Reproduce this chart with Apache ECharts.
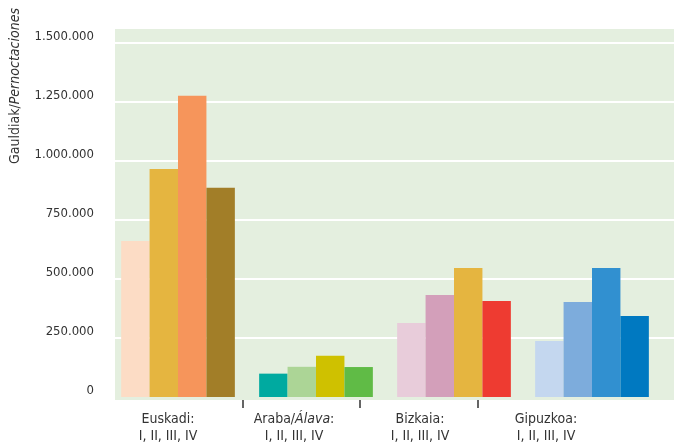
<!DOCTYPE html>
<html>
<head>
<meta charset="utf-8">
<script src="https://cdn.jsdelivr.net/npm/echarts@6/dist/echarts.min.js"></script>
<style>
  html, body { margin: 0; padding: 0; background: #fff; }
  #chart { width: 674px; height: 443px; }
</style>
</head>
<body>
<div id="chart"></div>
<script>
// data
const categories = ['Euskadi', 'Araba/Álava', 'Bizkaia', 'Gipuzkoa']
const quarters = ['I', 'II', 'III', 'IV']
const q1 = [661000, 99000, 314000, 237000]
const q2 = [966000, 128000, 432000, 403000]
const q3 = [1277000, 175000, 547000, 547000]
const q4 = [887000, 127000, 407000, 343000]
const yMax = 1560000
const yStep = 250000

// one colour per region and quarter
const palette = [
  ['#fcdcc5', '#e5b540', '#f6955b', '#a27e28'],
  ['#00aaa0', '#acd596', '#cfc100', '#60bb46'],
  ['#e8ccda', '#d39fba', '#e5b540', '#ee3b31'],
  ['#c4d7ef', '#7dacdc', '#3190d0', '#0079c1']
]

const values = [q1, q2, q3, q4]
const font = "'Liberation Sans Narrow', 'DejaVu Sans Condensed', sans-serif"
const textColor = '#333'

const fmt = (v) => String(v).replace(/\B(?=(\d{3})+(?!\d))/g, '.')

const hiddenX = (gridIndex, data) => ({
  type: 'category', gridIndex, data, show: false
})
const hiddenY = (gridIndex) => ({
  type: 'value', gridIndex, min: 0, max: yMax, show: false, splitLine: { show: false }
})
const box = (left, right, bottom, extra) => ({
  left, right, top: 29, bottom, outerBoundsMode: 'none', containLabel: false, ...extra
})

const labelRich = {
  a: { fontSize: 14, lineHeight: 20, color: textColor, fontFamily: font },
  ai: { fontSize: 14, lineHeight: 20, color: textColor, fontFamily: font, fontStyle: 'italic' },
  b: { fontSize: 14, lineHeight: 14, color: textColor, fontFamily: font }
}

const catLabel = (v) => {
  const first = v.includes('Álava')
    ? '{a|Araba/}{ai|Álava}{a|:}'
    : '{a|' + v + ':}'
  return first + '\n{b|' + quarters.join(', ') + '}'
}

const chart = echarts.init(document.getElementById('chart'), null, { renderer: 'canvas' })

chart.setOption({
  backgroundColor: '#fff',
  animation: false,
  textStyle: { fontFamily: font },
  grid: [
    // green panel
    box(115, 0, 43, { show: true, backgroundColor: '#e4efdf', borderWidth: 0 }),
    // value axis + white grid lines
    box(115, 0, 46),
    // bars
    box(109, 13, 46),
    // category labels
    box(105, 65, 43),
    // separators between regions
    box(184, 138, 43)
  ],
  graphic: [{
    type: 'text',
    x: 15,
    y: 86,
    rotation: Math.PI / 2,
    style: {
      text: 'Gauldiak/{i|Pernoctaciones}',
      fontFamily: font,
      fontSize: 14,
      fill: textColor,
      align: 'center',
      verticalAlign: 'middle',
      rich: { i: { fontStyle: 'italic', fontFamily: font, fontSize: 14, fill: textColor } }
    }
  }],
  xAxis: [
    hiddenX(0, categories),
    hiddenX(1, categories),
    hiddenX(2, categories),
    {
      type: 'category',
      gridIndex: 3,
      data: categories,
      axisLine: { show: false },
      axisTick: { show: false },
      axisLabel: {
        interval: 0,
        margin: 9,
        color: textColor,
        fontSize: 14,
        fontFamily: font,
        formatter: catLabel,
        rich: labelRich
      }
    },
    {
      type: 'category',
      gridIndex: 4,
      data: ['', '', ''],
      axisLine: { show: false },
      axisLabel: { show: false },
      axisTick: { show: true, alignWithLabel: true, length: 8, lineStyle: { color: '#333', width: 1.5 } }
    }
  ],
  yAxis: [
    hiddenY(0),
    {
      type: 'value',
      gridIndex: 1,
      min: 0,
      max: yMax,
      interval: yStep,
      axisLine: { show: false },
      axisTick: { show: false },
      axisLabel: {
        margin: 21,
        color: textColor,
        fontSize: 13,
        fontFamily: font,
        showMaxLabel: false,
        verticalAlign: 'bottom',
        formatter: fmt
      },
      splitLine: { show: true, showMinLine: false, showMaxLine: false, lineStyle: { color: '#fff', width: 2 } }
    },
    hiddenY(2),
    hiddenY(3),
    hiddenY(4)
  ],
  series: quarters.map((q, qi) => ({
    name: q,
    type: 'bar',
    xAxisIndex: 2,
    yAxisIndex: 2,
    barGap: '0%',
    barCategoryGap: '17.6%',
    data: values[qi].map((v, ci) => ({ value: v, itemStyle: { color: palette[ci][qi] } }))
  }))
})
</script>
</body>
</html>
